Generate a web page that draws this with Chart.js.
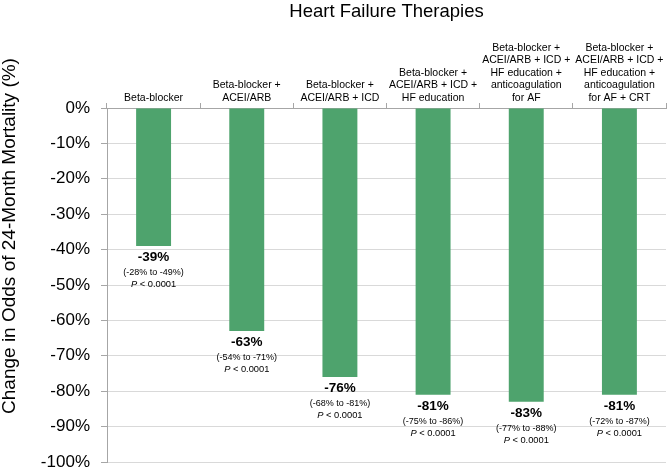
<!DOCTYPE html>
<html>
<head>
<meta charset="utf-8">
<script src="https://cdn.jsdelivr.net/npm/chart.js@4/dist/chart.umd.min.js"></script>
<style>
  html, body { margin: 0; padding: 0; background: #ffffff; }
  #wrap { width: 669px; height: 469px; }
</style>
</head>
<body>
<div id="wrap"><canvas id="c" width="669" height="469"></canvas></div>
<script>
const categories = [
  ["Beta-blocker"],
  ["Beta-blocker +", "ACEI/ARB"],
  ["Beta-blocker +", "ACEI/ARB + ICD"],
  ["Beta-blocker +", "ACEI/ARB + ICD +", "HF education"],
  ["Beta-blocker +", "ACEI/ARB + ICD +", "HF education +", "anticoagulation", "for AF"],
  ["Beta-blocker +", "ACEI/ARB + ICD +", "HF education +", "anticoagulation", "for AF + CRT"]
];
const oddsChange = [-39, -63, -76, -81, -83, -81];
const ciUpper = [-28, -54, -68, -75, -77, -72];
const ciLower = [-49, -71, -81, -86, -88, -87];
const pValueText = ["< 0.0001", "< 0.0001", "< 0.0001", "< 0.0001", "< 0.0001", "< 0.0001"];
const yTickValues = [0, -10, -20, -30, -40, -50, -60, -70, -80, -90, -100];
const yAxisTitle = 'Change in Odds of 24-Month Mortality (%)';

const FONT = "'Liberation Sans', Arial, Helvetica, sans-serif";

const annotate = {
  id: 'annotate',
  afterDatasetsDraw(chart) {
    const ctx = chart.ctx;
    const meta = chart.getDatasetMeta(0);
    ctx.save();
    ctx.fillStyle = '#000';
    ctx.textBaseline = 'middle';
    ctx.textAlign = 'center';
    meta.data.forEach((bar, i) => {
      const x = bar.x, y = bar.y;
      ctx.font = 'bold 13.5px ' + FONT;
      ctx.fillText(oddsChange[i] + '%', x, y + 11.5);
      ctx.font = '9px ' + FONT;
      ctx.fillText('(' + ciUpper[i] + '% to ' + ciLower[i] + '%)', x, y + 26.5);
      ctx.textAlign = 'left';
      ctx.font = 'italic 9.3px ' + FONT;
      const wP = ctx.measureText('P').width;
      ctx.font = '9.3px ' + FONT;
      const rest = ' ' + pValueText[i];
      const wR = ctx.measureText(rest).width;
      const x0 = x - (wP + wR) / 2;
      ctx.font = 'italic 9.3px ' + FONT;
      ctx.fillText('P', x0, y + 38.5);
      ctx.font = '9.3px ' + FONT;
      ctx.fillText(rest, x0 + wP, y + 38.5);
      ctx.textAlign = 'center';
    });
    // y-axis title, centred on the canvas height as in the reference
    ctx.translate(10, 236);
    ctx.rotate(-Math.PI / 2);
    ctx.font = '19px ' + FONT;
    ctx.textAlign = 'center';
    ctx.textBaseline = 'middle';
    ctx.fillText(yAxisTitle, 0, 0);
    ctx.restore();
  }
};

new Chart(document.getElementById('c'), {
  type: 'bar',
  data: {
    labels: categories,
    datasets: [{
      data: oddsChange,
      backgroundColor: '#4ea36d',
      borderWidth: 0,
      categoryPercentage: 1.0,
      barPercentage: 0.375
    }]
  },
  options: {
    responsive: false,
    animation: false,
    devicePixelRatio: 1,
    layout: { padding: { left: 0, right: 3, top: 0, bottom: 7 } },
    plugins: {
      legend: { display: false },
      tooltip: { enabled: false },
      title: {
        display: true,
        fullSize: false,
        text: 'Heart Failure Therapies',
        color: '#000',
        font: { family: FONT, size: 18.5, weight: 'normal', lineHeight: 1.2 },
        padding: { top: 1, bottom: 0 }
      }
    },
    scales: {
      x: {
        position: 'top',
        offset: true,
        afterFit(s) { s.height = 108 - 23.2; s.paddingLeft = 0; s.paddingRight = 0; },
        grid: {
          offset: true,
          drawOnChartArea: false,
          drawTicks: true,
          tickLength: 5,
          tickColor: '#a6a6a6',
          color: '#a6a6a6'
        },
        border: { display: true, color: '#a6a6a6', width: 1 },
        ticks: {
          color: '#000',
          padding: -1.5,
          maxRotation: 0,
          autoSkip: false,
          font: { family: FONT, size: 10.5, lineHeight: 1.2 }
        }
      },
      y: {
        min: -100,
        max: 0,
        afterFit(s) { s.width = 107; s.paddingTop = 0; s.paddingBottom = 0; },
        afterBuildTicks(s) { s.ticks = yTickValues.map(v => ({ value: v })); },
        grid: {
          color: '#d9d9d9',
          tickColor: '#a6a6a6',
          tickLength: 6,
          drawTicks: true
        },
        border: { display: true, color: '#a6a6a6', width: 1 },
        ticks: {
          color: '#000',
          padding: 11,
          font: { family: FONT, size: 17 },
          callback: v => v + '%'
        },
        title: { display: false, text: yAxisTitle }
      }
    }
  },
  plugins: [annotate]
});
</script>
</body>
</html>
